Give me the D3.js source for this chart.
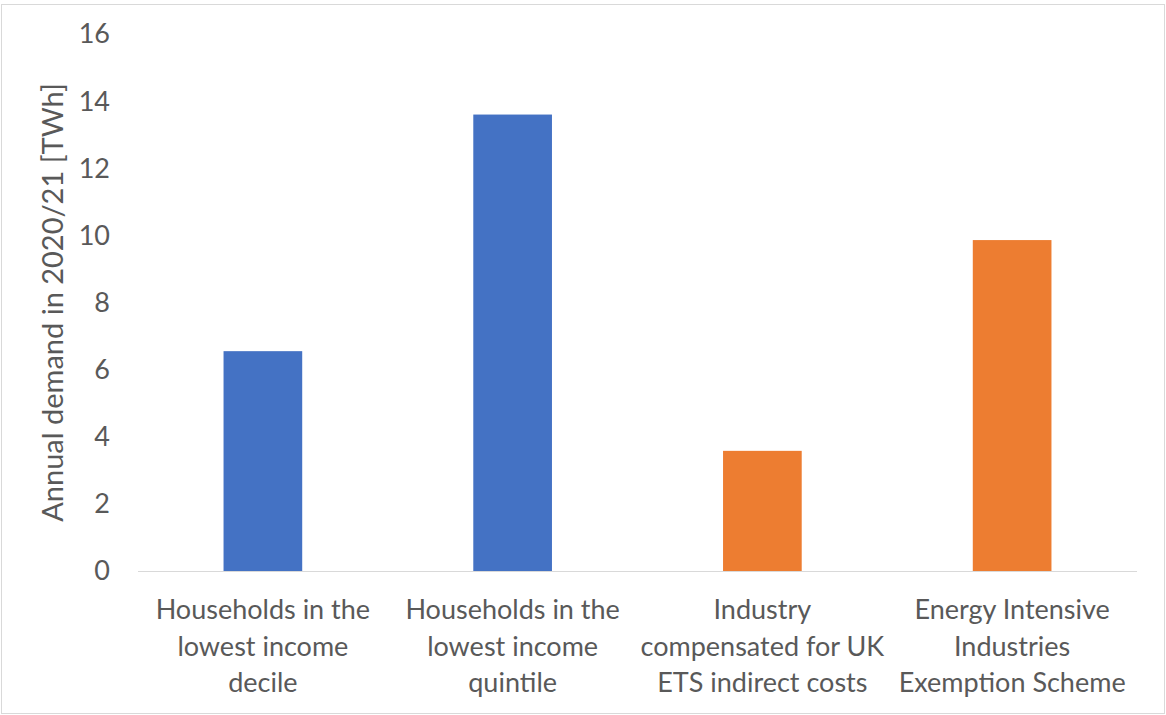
<!DOCTYPE html>
<html>
<head>
<meta charset="utf-8">
<script src="https://cdn.jsdelivr.net/npm/d3@7"></script>
<style>
  body { margin: 0; background: #fff; }
  text { font-family: Lato, "Open Sans", sans-serif; fill: #595959; }
</style>
</head>
<body>
<svg id="chart" width="1166" height="715"></svg>
<script>
// Data
const categories = [
    ['Households in the', 'lowest income', 'decile'],
    ['Households in the', 'lowest income', 'quintile'],
    ['Industry', 'compensated for UK', 'ETS indirect costs'],
    ['Energy Intensive', 'Industries', 'Exemption Scheme']
];
const values = [6.55, 13.6, 3.58, 9.86];
const colors = ['#4472C4', '#4472C4', '#ED7D31', '#ED7D31'];
const yTicks = [0, 2, 4, 6, 8, 10, 12, 14, 16];
const yTitle = 'Annual demand in 2020/21 [TWh]';

const svg = d3.select('#chart');
const margin = { left: 138, right: 1137, top: 34, bottom: 571 };

// outer frame
svg.append('rect')
    .attr('x', 1.5).attr('y', 4.5)
    .attr('width', 1163).attr('height', 709)
    .attr('fill', 'none')
    .attr('stroke', '#d9d9d9');

const x = d3.scaleBand()
    .domain(d3.range(categories.length))
    .range([margin.left, margin.right])
    .padding(0);

const y = d3.scaleLinear()
    .domain([0, 16])
    .range([margin.bottom, margin.top]);

const barW = x.bandwidth() * 0.315;

// bars
svg.append('g').selectAll('rect')
    .data(values)
    .join('rect')
    .attr('x', (d, i) => x(i) + x.bandwidth() / 2 - barW / 2)
    .attr('y', d => y(d))
    .attr('width', barW)
    .attr('height', d => y(0) - y(d))
    .attr('fill', (d, i) => colors[i]);

// baseline
svg.append('line')
    .attr('x1', margin.left).attr('x2', margin.right)
    .attr('y1', y(0) + 0.5).attr('y2', y(0) + 0.5)
    .attr('stroke', '#d9d9d9')
    .attr('stroke-width', 1.2);

// y tick labels
svg.append('g').selectAll('text')
    .data(yTicks)
    .join('text')
    .attr('x', 110)
    .attr('y', d => y(d))
    .attr('dy', '0.35em')
    .attr('text-anchor', 'end')
    .attr('font-size', 27)
    .text(d => d);

// category labels
const labels = svg.append('g').selectAll('text')
    .data(categories)
    .join('text')
    .attr('text-anchor', 'middle')
    .attr('font-size', 27)
    .attr('transform', (d, i) => 'translate(' + (x(i) + x.bandwidth() / 2) + ',619)');
labels.selectAll('tspan')
    .data(d => d)
    .join('tspan')
    .attr('x', 0)
    .attr('y', (d, i) => i * 36.7)
    .text(d => d);

// y axis title
svg.append('text')
    .attr('transform', 'translate(63,' + ((margin.top + margin.bottom) / 2) + ') rotate(-90)')
    .attr('text-anchor', 'middle')
    .attr('font-size', 29)
    .text(yTitle);
</script>
</body>
</html>
